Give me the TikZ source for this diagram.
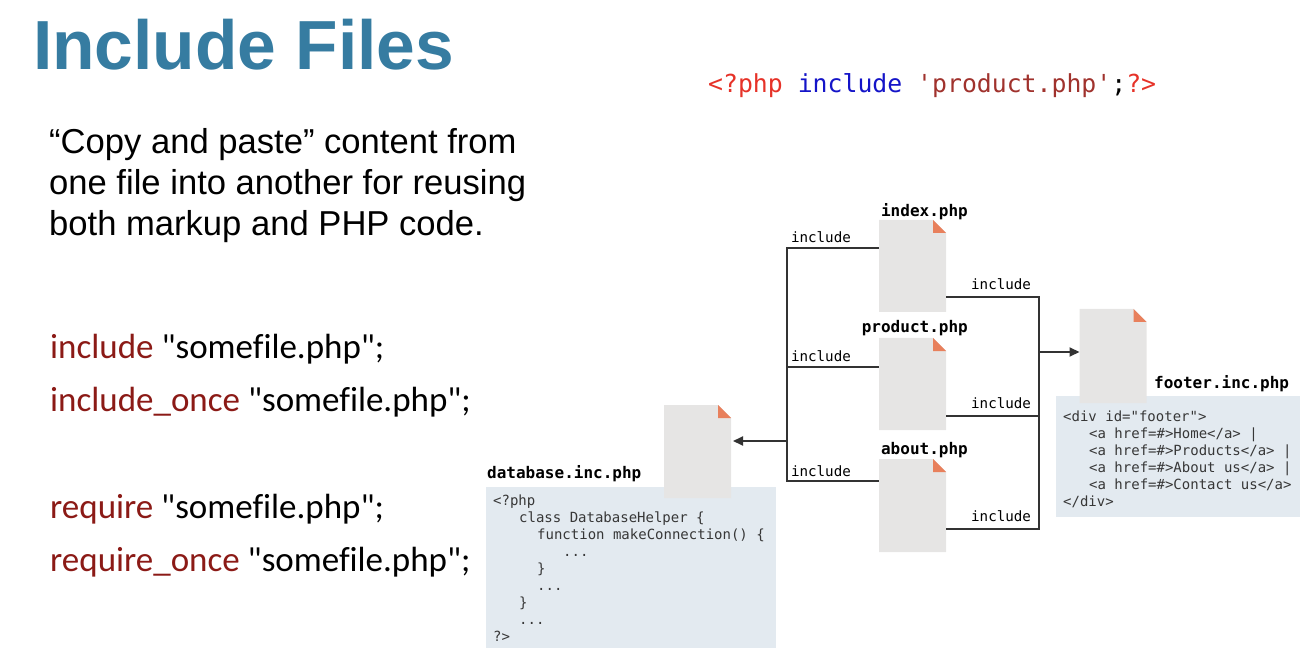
\documentclass[tikz,border=0pt]{standalone}
\usepackage{fontspec}
\setmainfont{Liberation Sans}
\setmonofont{DejaVu Sans Mono}
\newfontfamily\calfont{Carlito}[Ligatures=NoCommon]
\usepackage{tikz}
\usetikzlibrary{arrows.meta,positioning}

\definecolor{titleblue}{RGB}{54,124,161}
\definecolor{kwred}{RGB}{139,26,22}
\definecolor{phpred}{RGB}{230,50,40}
\definecolor{phpblue}{RGB}{20,20,200}
\definecolor{phpstr}{RGB}{160,50,45}
\definecolor{codebg}{RGB}{227,234,240}
\definecolor{filegray}{RGB}{230,229,228}
\definecolor{dogear}{RGB}{232,128,92}
\definecolor{linegray}{RGB}{51,51,51}
\definecolor{codetext}{RGB}{55,55,55}

\tikzset{
  fileicon/.style={minimum width=67pt, minimum height=92pt, inner sep=0pt, outer sep=0pt,
    path picture={
      \fill[filegray] (path picture bounding box.north west)
        -- ([xshift=-13pt]path picture bounding box.north east)
        -- ([yshift=-13pt]path picture bounding box.north east)
        -- (path picture bounding box.south east)
        -- (path picture bounding box.south west) -- cycle;
      \fill[dogear] ([xshift=-13pt]path picture bounding box.north east)
        -- ([xshift=-13pt,yshift=-13pt]path picture bounding box.north east)
        -- ([yshift=-13pt]path picture bounding box.north east) -- cycle;
    }},
  fname/.style={inner sep=0pt, text=black, font=\ttfamily\bfseries\fontsize{16}{19}\selectfont},
  codebox/.style={fill=codebg, inner sep=0pt, anchor=north west},
  codetxt/.style={inner sep=0pt, anchor=north west, align=left, text=codetext,
    font=\ttfamily\fontsize{14}{17}\selectfont},
  conn/.style={draw=linegray, line width=2pt},
  lincl/.style={inner sep=0pt, anchor=base west, xshift=3pt, yshift=5pt, text=black,
    font=\ttfamily\fontsize{14.2}{17}\selectfont},
  rincl/.style={inner sep=0pt, anchor=base east, xshift=-7pt, yshift=7.5pt, text=black,
    font=\ttfamily\fontsize{14.2}{17}\selectfont},
  tip/.style={-{Triangle[length=10pt,width=9pt]}},
  kwline/.style={anchor=base west, inner sep=0pt, font=\calfont\fontsize{35}{40}\selectfont},
}

\begin{document}
\begin{tikzpicture}[x=1pt,y=-1pt]
  \useasboundingbox (0,0) rectangle (1312,660);

  % left column
  \node[anchor=base west, inner sep=0pt, text=titleblue,
    font=\bfseries\fontsize{69.5}{84}\selectfont] (title) at (33,70) {Include Files};
  \node[anchor=north west, inner sep=0pt, align=left,
    font=\fontsize{34.6}{41}\selectfont] (desc) at (49,128)
    {“Copy and paste” content from\\one file into another for reusing\\both markup and PHP code.};
  \node[kwline] (incl1) at (50,358) {\textcolor{kwred}{include} "somefile.php";};
  \node[kwline] (incl2) at (50,411) {\textcolor{kwred}{include\_once} "somefile.php";};
  \node[kwline] (req1) at (50,518) {\textcolor{kwred}{require} "somefile.php";};
  \node[kwline] (req2) at (50,571) {\textcolor{kwred}{require\_once} "somefile.php";};

  % php line
  \node[anchor=base west, inner sep=0pt, font=\ttfamily\fontsize{24.8}{30}\selectfont] (phpline) at (708,93)
    {\textcolor{phpred}{<?php} \textcolor{phpblue}{include} \textcolor{phpstr}{'product.php'};\textcolor{phpred}{?>}};

  % code boxes
  \node[codebox, minimum width=290pt, minimum height=161pt] (dbcode) at (486,487) {};
  \node[codetxt] (dbtext) at (493,494.5)
    {<?php\\
     \hspace*{26pt}class DatabaseHelper \{\\
     \hspace*{44pt}function makeConnection() \{\\
     \hspace*{70pt}...\\
     \hspace*{44pt}\}\\
     \hspace*{44pt}...\\
     \hspace*{26pt}\}\\
     \hspace*{26pt}...\\
     ?>};
  \node[codebox, minimum width=244pt, minimum height=121pt] (ftcode) at (1056,396) {};
  \node[codetxt] (fttext) at (1063,410.5)
    {<div id="footer">\\
     \hspace*{26pt}<a href=\#>Home</a> |\\
     \hspace*{26pt}<a href=\#>Products</a> |\\
     \hspace*{26pt}<a href=\#>About us</a> |\\
     \hspace*{26pt}<a href=\#>Contact us</a>\\
     </div>};

  % files
  \node[fileicon] (index) at (912.5,266) {};
  \node[fileicon, below=26pt of index] (product) {};
  \node[fileicon, minimum height=93pt, below=29pt of product] (about) {};
  \node[fileicon, minimum height=93pt] (database) at (697.5,451.5) {};
  \node[fileicon, minimum height=94pt] (footer) at (1113,356) {};

  \node[fname, anchor=base east] (indexname) at ([xshift=22pt,yshift=3pt]index.north east) {index.php};
  \node[fname, anchor=base east] (productname) at ([xshift=22pt,yshift=5pt]product.north east) {product.php};
  \node[fname, anchor=base east] (aboutname) at ([xshift=22pt,yshift=5pt]about.north east) {about.php};
  \node[fname, anchor=base west] (dbname) at (487,478) {database.inc.php};
  \node[fname, anchor=base west] (footername) at (1154,388) {footer.inc.php};

  % connectors
  \coordinate (ltop) at (787,248);
  \coordinate (lprod) at (787,367);
  \coordinate (larr) at (787,441);
  \coordinate (lbot) at (787,481);
  \coordinate (rtop) at (1039,297);
  \coordinate (rarr) at (1039,352);
  \coordinate (rprod) at (1039,416);
  \coordinate (rbot) at (1039,529);

  \draw[conn] (index.west |- ltop) -- (ltop) node[lincl] {include}
    -- (lbot) node[lincl] {include} -- (about.west |- lbot);
  \draw[conn] (lprod) node[lincl] {include} -- (product.west |- lprod);
  \draw[conn, tip, shorten >=2pt] (larr) -- (database.east |- larr);

  \draw[conn] (index.east |- rtop) -- (rtop) node[rincl] {include}
    -- (rbot) node[rincl] {include} -- (about.east |- rbot);
  \draw[conn] (product.east |- rprod) -- (rprod) node[rincl] {include};
  \draw[conn, tip] (rarr) -- (footer.west |- rarr);
\end{tikzpicture}
\end{document}
